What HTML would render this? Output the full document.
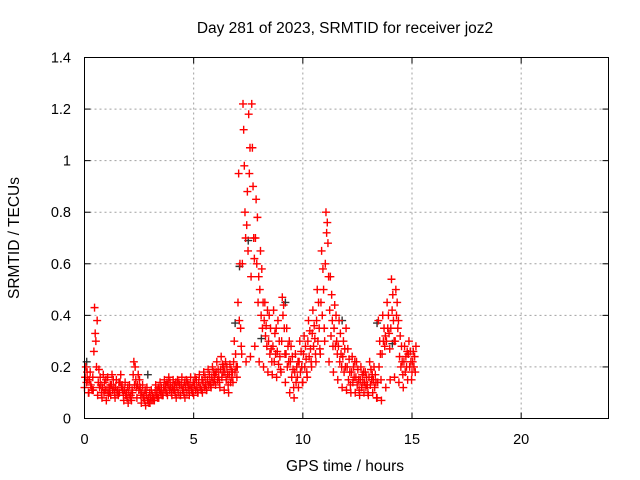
<!DOCTYPE html>
<html><head><meta charset="utf-8"><style>
body{margin:0;background:#fff}
svg{display:block;font-family:"Liberation Sans",sans-serif}
</style></head><body>
<svg id="chart" width="640" height="480" viewBox="0 0 640 480">
<text x="345" y="33" font-size="15.5" text-anchor="middle">Day 281 of 2023, SRMTID for receiver joz2</text>
<text x="345" y="471" font-size="15.5" text-anchor="middle">GPS time / hours</text>
<text transform="translate(19,238) rotate(-90)" font-size="15.5" text-anchor="middle">SRMTID / TECUs</text>
<g id="grid"></g>
<g id="axes"></g>
<g id="points"></g>
<rect x="84.5" y="57.5" width="524" height="361" fill="none" stroke="#000"/>
</svg>
<script>
const xTicks=[0,5,10,15,20];
const yTicks=[0,0.2,0.4,0.6,0.8,1,1.2,1.4];
const yTickLabels=["0","0.2","0.4","0.6","0.8","1","1.2","1.4"];
const times=[0,0.2,0.4,0.6,0.8,1,1.2,1.4,1.6,1.8,2,2.2,2.4,2.6,2.8,3,3.2,3.4,3.6,3.8,4,4.2,4.4,4.6,4.8,5,5.2,5.4,5.6,5.8,6,6.2,6.4,6.6,6.8,7,7.2,7.4,7.6,7.8,8,8.2,8.4,8.6,8.8,9,9.2,9.4,9.6,9.8,10,10.2,10.4,10.6,10.8,11,11.2,11.4,11.6,11.8,12,12.2,12.4,12.6,12.8,13,13.2,13.4,13.6,13.8,14,14.2,14.4,14.6,14.8,15];
const trackOffsets=[0,0.03,0.06,0.09,0.12,0.15,0.18];
const trackA=[.12,.10,.11,.09,.08,.07,.09,.08,.10,.07,.06,.10,.08,.06,.05,.06,.07,.08,.09,.09,.09,.08,.09,.08,.09,.09,.10,.10,.11,.12,.13,.12,.11,.10,.14,.20,.25,.22,.24,.28,.22,.20,.18,.17,.16,.18,.14,.10,.08,.12,.14,.16,.20,.22,.25,.30,.22,.18,.15,.12,.11,.10,.10,.09,.10,.09,.10,.08,.07,.12,.15,.16,.14,.12,.15,.18];
const trackB=[.16,.15,.26,.14,.12,.11,.13,.12,.14,.11,.10,.17,.13,.10,.09,.08,.10,.11,.12,.13,.12,.12,.13,.12,.13,.13,.14,.14,.15,.16,.18,.19,.18,.17,.22,.45,.60,.75,.55,.70,.50,.38,.30,.28,.26,.30,.25,.22,.18,.22,.25,.30,.33,.38,.45,.60,.42,.35,.28,.24,.20,.18,.16,.15,.14,.16,.15,.14,.25,.30,.35,.30,.24,.22,.25,.22];
const trackC=[.20,.18,.43,.19,.17,.16,.17,.15,.17,.14,.13,.22,.17,.13,.12,.11,.13,.14,.15,.16,.15,.15,.16,.15,.16,.16,.17,.18,.19,.20,.22,.24,.22,.21,.30,.95,1.22,.88,1.22,.85,.65,.45,.40,.42,.38,.47,.35,.28,.25,.30,.32,.38,.42,.50,.65,.80,.55,.44,.38,.30,.27,.24,.22,.20,.18,.22,.20,.38,.40,.45,.54,.50,.32,.28,.30,.26];
const trackD=[.14,.13,.33,.12,.10,.09,.11,.10,.12,.09,.08,.13,.11,.08,.07,.07,.09,.10,.11,.11,.11,.10,.11,.10,.11,.11,.12,.12,.13,.14,.15,.16,.15,.14,.18,.38,1.12,.65,1.05,.60,.40,.32,.25,.22,.21,.40,.20,.16,.14,.18,.20,.24,.28,.30,.40,.72,.32,.28,.22,.18,.15,.14,.13,.12,.12,.13,.12,.20,.30,.35,.42,.40,.20,.18,.20,.20];
const trackE=[.18,.12,.30,.16,.14,.12,.15,.11,.13,.10,.09,.20,.15,.09,.08,.09,.11,.12,.13,.14,.13,.14,.12,.14,.12,.15,.12,.16,.17,.18,.19,.21,.20,.19,.25,.60,.98,1.18,.90,.78,.58,.36,.35,.33,.30,.44,.28,.24,.20,.26,.28,.34,.36,.45,.58,.76,.48,.40,.33,.27,.23,.20,.19,.17,.16,.19,.17,.30,.35,.40,.48,.45,.28,.24,.26,.24];
const trackF=[.15,.11,.20,.13,.11,.10,.12,.09,.11,.08,.07,.15,.12,.07,.06,.08,.08,.09,.10,.12,.10,.13,.10,.13,.10,.12,.11,.13,.14,.15,.16,.18,.17,.16,.20,.35,.80,.95,.70,.45,.35,.28,.27,.25,.24,.35,.22,.19,.16,.20,.23,.27,.31,.35,.50,.68,.38,.30,.25,.20,.18,.16,.15,.14,.13,.15,.14,.25,.28,.33,.38,.35,.22,.20,.22,.18];
const trackG=[.10,.16,.38,.10,.15,.13,.10,.14,.09,.12,.11,.12,.09,.11,.10,.07,.12,.09,.14,.10,.14,.09,.14,.11,.14,.10,.15,.11,.13,.17,.14,.20,.13,.18,.16,.28,.70,1.05,.62,.55,.45,.42,.22,.35,.19,.25,.30,.12,.22,.14,.18,.22,.25,.27,.35,.55,.28,.25,.20,.35,.13,.22,.11,.18,.10,.17,.08,.15,.32,.27,.30,.38,.17,.26,.15,.28];
const blackTimes=[0.1,2.9,6.9,7.1,7.5,8.1,9.2,11.8,13.4,14.1];
const blackValues=[0.22,0.17,0.37,0.59,0.69,0.31,0.45,0.38,0.37,0.29];

const NS="http://www.w3.org/2000/svg";
const X0=84.5,X1=608.5,Y0=418.5,Y1=57.5;
function xs(v){return X0+(v/24)*(X1-X0);}
function ys(v){return Y0-(v/1.4)*(Y0-Y1);}
function mk(tag,attrs,parent){const e=document.createElementNS(NS,tag);for(const k in attrs)e.setAttribute(k,attrs[k]);parent.appendChild(e);return e;}
const grid=document.getElementById('grid'),axes=document.getElementById('axes'),pts=document.getElementById('points');
xTicks.forEach(t=>{
  const x=xs(t);
  if(t>0){const g=mk('line',{x1:x,x2:x,y1:Y1,y2:Y0,stroke:'#a0a0a0','stroke-dasharray':'2,3'},grid);
  
  }
  mk('line',{x1:x,x2:x,y1:Y0,y2:Y0-6,stroke:'#000'},axes);
  mk('line',{x1:x,x2:x,y1:Y1,y2:Y1+6,stroke:'#000'},axes);
  const l=mk('text',{x:x,y:444,'font-size':14.5,'text-anchor':'middle'},axes);
  l.textContent=String(t);
  
  
});
yTicks.forEach((t,i)=>{
  const y=ys(t);
  if(i>0&&i<yTicks.length-1){const g=mk('line',{x1:X0,x2:X1,y1:y,y2:y,stroke:'#a0a0a0','stroke-dasharray':'2,3'},grid);
  
  }
  mk('line',{x1:X0,x2:X0+6,y1:y,y2:y,stroke:'#000'},axes);
  mk('line',{x1:X1,x2:X1-6,y1:y,y2:y,stroke:'#000'},axes);
  const l=mk('text',{x:71,y:y+5,'font-size':14.5,'text-anchor':'end'},axes);
  l.textContent=yTickLabels[i];
  
  
});
function cross(t,v,color,name){
  const x=xs(t),y=ys(v);
  const p=mk('path',{d:`M${x-4},${y}H${x+4}M${x},${y-4}V${y+4}`,stroke:color,'stroke-width':1.4,fill:'none'},pts);
  
  
}
blackValues.forEach((v,i)=>cross(blackTimes[i],v,'#333','black-point'));
[trackA,trackB,trackC,trackD,trackE,trackF,trackG].forEach((tr,k)=>{
  tr.forEach((v,i)=>{
    cross(times[i]+trackOffsets[k],v,'#ff0000','srmtid-point');
  });
});
</script>
</body></html>
